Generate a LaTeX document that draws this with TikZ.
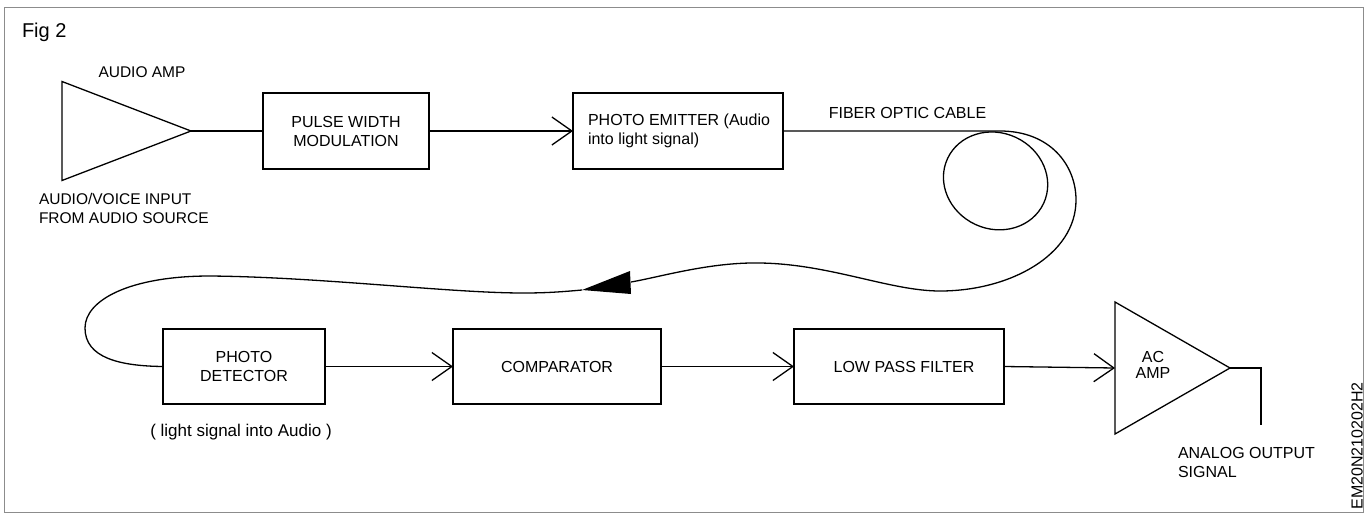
\documentclass[tikz,border=0pt]{standalone}
\usepackage{fontspec}
\setmainfont{Liberation Sans}
\usetikzlibrary{arrows.meta,shapes.geometric}
\begin{document}
\begin{tikzpicture}[x=1pt,y=-1pt,
  line width=1.3pt,
  every node/.style={font=\fontsize{16}{19}\selectfont, inner sep=0pt, outer sep=0pt},
  blk/.style={draw, align=center},
  amp/.style={draw, isosceles triangle, isosceles triangle stretches, shape border rotate=0, inner sep=0pt, outer sep=0pt},
  sig/.style={-{Straight Barb[length=20pt,width=28pt]}},
]
\useasboundingbox (0,0) rectangle (1367,514);
\draw[black!45, line width=1pt] (4,7.5) rectangle (1363,512.5);

% labels
\node[anchor=base west, font=\fontsize{20}{24}\selectfont] (fig) at (22,37.5) {Fig 2};
\node[font=\fontsize{15.5}{19}\selectfont] (aamplbl) at (142,72) {AUDIO AMP};
\node[align=left, anchor=west, font=\fontsize{15.5}{19}\selectfont] (inlbl) at (39,208.5) {AUDIO/VOICE INPUT\\FROM AUDIO SOURCE};
\node (fiberlbl) at (907.5,113) {FIBER OPTIC CABLE};
\node[font=\fontsize{17}{19}\selectfont] (detlbl) at (241,432) {( light signal into Audio )};
\node[align=left, anchor=west] (outlbl) at (1178,462.5) {ANALOG OUTPUT\\SIGNAL};
\node[align=center, font=\fontsize{16}{16}\selectfont] (aclbl) at (1153,365) {AC\\AMP};
\node[rotate=90] (code) at (1357,446) {EM20N210202H2};

% amplifiers
\node[amp, minimum width=99pt, minimum height=129pt, anchor=apex] (aamp) at (191,131) {};
\node[amp, minimum width=132pt, minimum height=115pt, anchor=apex] (acamp) at (1230,368) {};

% blocks
\node[blk, minimum width=166pt, minimum height=76pt] (pwm) at (346,131) {PULSE WIDTH\\MODULATION};
\node[blk, minimum width=210pt, minimum height=76pt, align=left] (emitter) at (678,131) {\hspace*{2pt}PHOTO EMITTER (Audio\\\hspace*{2pt}into light signal)};
\node[blk, minimum width=162pt, minimum height=75pt] (detector) at (244,366.5) {PHOTO\\DETECTOR};
\node[blk, minimum width=208pt, minimum height=75pt] (comp) at (557,366.5) {COMPARATOR};
\node[blk, minimum width=210pt, minimum height=75pt] (lpf) at (899,366.5) {\hspace*{10pt}LOW PASS FILTER};

% connectors
\draw (aamp.apex) -- (pwm.west);
\draw[sig] (pwm.east) -- (emitter.west);
\draw[sig] (detector.east) -- (comp.west);
\draw[sig] (comp.east) -- (lpf.west);
\draw[sig] (lpf.east) -- (acamp.west);
\coordinate (outend) at (1261,425);
\draw (acamp.apex) -| (outend);

% fiber optic cable
\coordinate (ftip) at (582,290);
\draw (emitter.east) -- (1000,131) .. controls (1050,131) and (1076,165) .. (1076,200)
  .. controls (1076,255) and (1010,291) .. (940,291)
  .. controls (890,291) and (830,264) .. (760,263)
  .. controls (710,262) and (660,277) .. (631,282);
\draw[rotate around={-25:(996,180)}] (996,181) ellipse [x radius=53, y radius=48];
\fill (630,271) -- (ftip) -- (631,294) -- cycle;
\draw (ftip) .. controls (560,292) and (545,293) .. (523,293)
  .. controls (450,293) and (320,277) .. (210,276)
  .. controls (130,276) and (85,300) .. (85,328)
  .. controls (85,358) and (120,366) .. (detector.west);
\end{tikzpicture}
\end{document}
